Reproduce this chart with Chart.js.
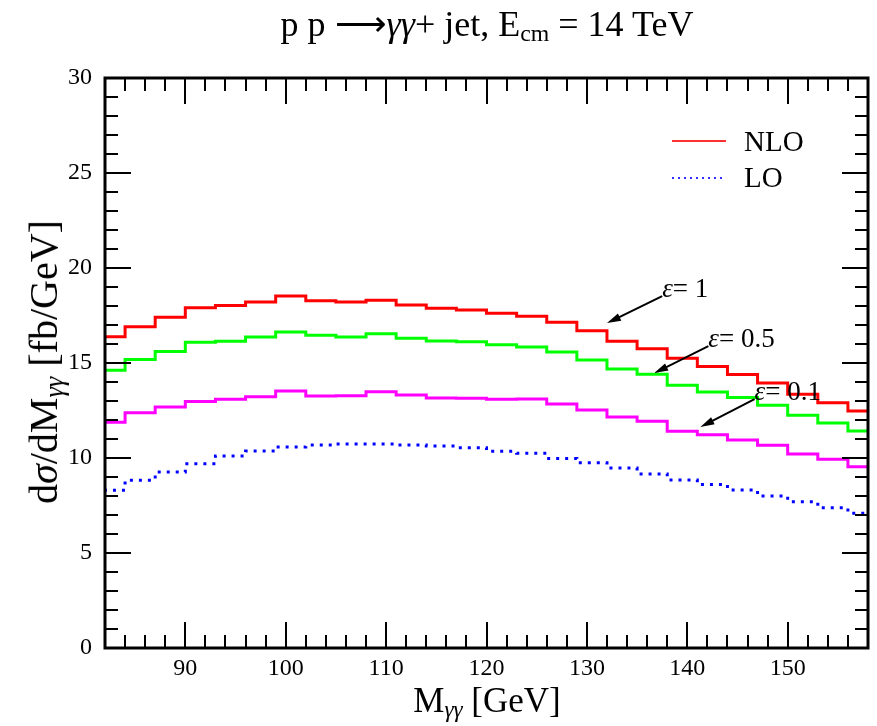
<!DOCTYPE html>
<html>
<head>
<meta charset="utf-8">
<title>pp -> gamma gamma + jet</title>
<script src="https://cdn.jsdelivr.net/npm/chart.js@4.4.0/dist/chart.umd.min.js"></script>
<style>
  body { margin: 0; background: #fff; }
  #wrap { position: relative; width: 877px; height: 726px; font-family: "Liberation Serif", "Times New Roman", serif; color: #000; }
  #wrap canvas { position: absolute; left: 0; top: 0; }
  .lbl { position: absolute; white-space: nowrap; }
  .lbl sub { font-size: 66%; vertical-align: -0.22em; line-height: 0; }
  #title { left: 487px; top: 6px; font-size: 36px; line-height: 36px; transform: translateX(-50%); }
  #xtitle { left: 487px; top: 683px; font-size: 35px; line-height: 35px; transform: translateX(-50%); }
  #ytitle { left: 44px; top: 362px; font-size: 40px; line-height: 40px; transform: translate(-50%, -50%) rotate(-90deg); }
</style>
</head>
<body>
<div id="wrap">
  <canvas id="crossSectionChart" width="877" height="726"></canvas>
  <div class="lbl" id="title">p p &#x27F6;<i>&gamma;&gamma;</i>+ jet, E<sub>cm</sub> = 14 TeV</div>
  <div class="lbl" id="xtitle">M<sub><i>&gamma;&gamma;</i></sub> [GeV]</div>
  <div class="lbl" id="ytitle">d<i>&sigma;</i>/dM<sub><i>&gamma;&gamma;</i></sub> [fb/GeV]</div>
</div>
<script>
// bin left edges (3 GeV bins), last entry is the right edge of the last bin
var binEdges = [81, 84, 87, 90, 93, 96, 99, 102, 105, 108, 111, 114, 117, 120, 123,
                126, 129, 132, 135, 138, 141, 144, 147, 150, 153, 156, 159];

// d sigma / dM [fb/GeV] per bin
var nloEps1  = [16.38, 16.91, 17.41, 17.91, 18.02, 18.21, 18.53, 18.28, 18.21, 18.30, 18.05, 17.88, 17.79,
                17.62, 17.46, 17.14, 16.70, 16.15, 15.75, 15.25, 14.81, 14.39, 13.95, 13.35, 12.91, 12.47];
var nloEps05 = [14.62, 15.19, 15.60, 16.09, 16.14, 16.37, 16.63, 16.46, 16.37, 16.54, 16.30, 16.16, 16.12,
                15.96, 15.84, 15.58, 15.16, 14.68, 14.41, 13.83, 13.47, 13.18, 12.77, 12.25, 11.84, 11.42];
var nloEps01 = [11.88, 12.38, 12.68, 12.98, 13.09, 13.23, 13.53, 13.26, 13.28, 13.49, 13.32, 13.16, 13.14,
                13.09, 13.11, 12.84, 12.53, 12.16, 11.93, 11.41, 11.23, 10.95, 10.67, 10.21, 9.93, 9.54];
var loValues = [8.30, 8.83, 9.26, 9.70, 10.11, 10.37, 10.58, 10.68, 10.74, 10.74, 10.68, 10.63, 10.54,
                10.35, 10.25, 9.98, 9.75, 9.47, 9.16, 8.84, 8.60, 8.32, 8.00, 7.70, 7.38, 7.09];

var yTickLabels = [0, 5, 10, 15, 20, 25, 30];
var xTickLabels = [90, 100, 110, 120, 130, 140, 150];

// annotation labels: text, text anchor (x, y) and arrow head (x, y) in data units
var epsLabels = [
    { text: '1',   x: 137.5, y: 18.47, hx: 132.0, hy: 17.10 },
    { text: '0.5', x: 142.1, y: 15.84, hx: 136.7, hy: 14.47 },
    { text: '0.1', x: 146.7, y: 13.05, hx: 141.3, hy: 11.63 }
];

var serif = '"Liberation Serif", "Times New Roman", serif';

function histPoints(values) {
    var pts = values.map(function (v, i) { return { x: binEdges[i], y: v }; });
    pts.push({ x: binEdges[values.length], y: values[values.length - 1] });
    return pts;
}

function stepSet(label, values, color, dash) {
    return {
        label: label,
        data: histPoints(values),
        borderColor: color,
        borderWidth: 3,
        borderDash: dash || [],
        stepped: true,
        pointRadius: 0,
        fill: false,
        clip: 0
    };
}

// frame with inward ticks on all four sides, legend and epsilon labels
var framePlugin = {
    id: 'frame',
    afterDatasetsDraw: function (chart) {
        var c = chart.ctx, a = chart.chartArea;
        var xs = chart.scales.x, ys = chart.scales.y;
        c.save();
        c.strokeStyle = '#000';
        c.lineWidth = 2;
        c.beginPath();
        for (var m = 84; m < 158; m += 2) {
            var px = Math.round(xs.getPixelForValue(m));
            var len = (m % 10 === 0) ? 26 : 13;
            c.moveTo(px, a.bottom); c.lineTo(px, a.bottom - len);
            c.moveTo(px, a.top); c.lineTo(px, a.top + len);
        }
        for (var v = 1; v < 30; v++) {
            var py = Math.round(ys.getPixelForValue(v));
            var l2 = (v % 5 === 0) ? 26 : 13;
            c.moveTo(a.left, py); c.lineTo(a.left + l2, py);
            c.moveTo(a.right, py); c.lineTo(a.right - l2, py);
        }
        c.stroke();
        c.lineWidth = 3;
        c.strokeRect(a.left, a.top, a.right - a.left, a.bottom - a.top);

        // legend
        c.lineWidth = 2;
        c.strokeStyle = '#ff3030';
        c.beginPath(); c.moveTo(672, 141); c.lineTo(726, 141); c.stroke();
        c.strokeStyle = '#3030ff';
        c.setLineDash([2, 4]);
        c.beginPath(); c.moveTo(672, 178); c.lineTo(726, 178); c.stroke();
        c.setLineDash([]);
        c.fillStyle = '#000';
        c.font = '29px ' + serif;
        c.textBaseline = 'middle';
        c.textAlign = 'left';
        c.fillText('NLO', 744, 143);
        c.fillText('LO', 744, 179);

        // epsilon labels with arrows
        c.textBaseline = 'alphabetic';
        epsLabels.forEach(function (e) {
            var tx = xs.getPixelForValue(e.x), ty = ys.getPixelForValue(e.y);
            var hx = xs.getPixelForValue(e.hx), hy = ys.getPixelForValue(e.hy);
            c.font = 'italic 27px ' + serif;
            c.fillText('\u03b5', tx, ty);
            var w = c.measureText('\u03b5').width;
            c.font = '27px ' + serif;
            c.fillText('= ' + e.text, tx + w, ty);
            var ang = Math.atan2(hy - ty, hx - tx);
            c.strokeStyle = '#000';
            c.lineWidth = 2;
            c.beginPath(); c.moveTo(tx, ty - 1); c.lineTo(hx - 8 * Math.cos(ang), hy - 8 * Math.sin(ang)); c.stroke();
            c.beginPath();
            c.moveTo(hx, hy);
            c.lineTo(hx - 14 * Math.cos(ang) + 4 * Math.sin(ang), hy - 14 * Math.sin(ang) - 4 * Math.cos(ang));
            c.lineTo(hx - 14 * Math.cos(ang) - 4 * Math.sin(ang), hy - 14 * Math.sin(ang) + 4 * Math.cos(ang));
            c.closePath();
            c.fill();
        });
        c.restore();
    }
};

var ctx = document.getElementById('crossSectionChart').getContext('2d');
var crossSectionChart = new Chart(ctx, {
    type: 'line',
    data: {
        datasets: [
            stepSet('NLO, \u03b5 = 1', nloEps1, '#ff0000'),
            stepSet('NLO, \u03b5 = 0.5', nloEps05, '#00ff00'),
            stepSet('NLO, \u03b5 = 0.1', nloEps01, '#ff00ff'),
            stepSet('LO', loValues, '#0000ff', [3, 6])
        ]
    },
    options: {
        responsive: false,
        animation: false,
        layout: { padding: { left: 0, top: 78, right: 9, bottom: 0 } },
        plugins: {
            legend: { display: false },
            tooltip: { enabled: false }
        },
        scales: {
            x: {
                type: 'linear',
                min: 82,
                max: 158,
                grid: { display: false, drawTicks: false },
                border: { display: false },
                afterBuildTicks: function (scale) {
                    scale.ticks = xTickLabels.map(function (v) { return { value: v }; });
                },
                afterFit: function (scale) { scale.height = 78; },
                ticks: {
                    color: '#000',
                    padding: 6,
                    maxRotation: 0,
                    font: { family: serif, size: 24 }
                }
            },
            y: {
                min: 0,
                max: 30,
                grid: { display: false, drawTicks: false },
                border: { display: false },
                afterBuildTicks: function (scale) {
                    scale.ticks = yTickLabels.map(function (v) { return { value: v }; });
                },
                afterFit: function (scale) { scale.width = 105; },
                ticks: {
                    color: '#000',
                    padding: 13,
                    font: { family: serif, size: 24 }
                }
            }
        }
    },
    plugins: [framePlugin]
});
</script>
</body>
</html>
